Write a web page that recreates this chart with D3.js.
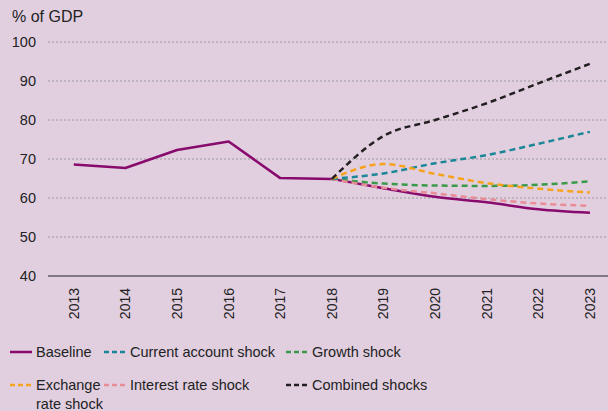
<!DOCTYPE html>
<html>
<head>
<meta charset="utf-8">
<script src="https://cdn.jsdelivr.net/npm/d3@7"></script>
<style>
  body { margin: 0; background: #e1cfe0; }
  svg { display: block; font-family: "Liberation Sans", Arial, sans-serif; }
</style>
</head>
<body>
<div class="chart"></div>
<script>
const width = 608
const height = 411

const years = [2013, 2014, 2015, 2016, 2017, 2018, 2019, 2020, 2021, 2022, 2023]
const shockYears = [2018, 2019, 2020, 2021, 2022, 2023]
const yTicks = [40, 50, 60, 70, 80, 90, 100]

const baseline = [68.6, 67.7, 72.3, 74.5, 65.1, 64.9, 62.5, 60.3, 58.9, 57.1, 56.2]
const currentAccount = [64.9, 66.3, 68.9, 71.0, 73.9, 77.0]
const growth = [64.9, 63.7, 63.2, 63.1, 63.4, 64.3]
const exchangeRate = [64.9, 68.7, 66.2, 63.8, 62.4, 61.4]
const interestRate = [64.9, 62.6, 61.2, 59.7, 58.6, 58.0]
const combined = [64.9, 75.9, 80.0, 84.3, 89.4, 94.4]

const COLORS = {
  BASELINE: '#870a6c',
  CURRENT: '#1b8796',
  GROWTH: '#3a9a48',
  EXCHANGE: '#f7a21b',
  INTEREST: '#ea8c98',
  COMBINED: '#231f20',
}

const margin = { top: 42, right: 0, bottom: 135, left: 48 }

const svg = d3.select('div.chart')
  .append('svg')
  .attr('width', width)
  .attr('height', height)

const x = d3.scaleLinear()
  .domain([2012.5, 2023.35])
  .range([margin.left, width - margin.right])

const y = d3.scaleLinear()
  .domain([40, 100])
  .range([height - margin.bottom, margin.top])

// gridlines
svg.append('g')
  .selectAll('line')
  .data(yTicks.filter(d => d > 40))
  .join('line')
  .attr('x1', margin.left)
  .attr('x2', width)
  .attr('y1', d => y(d))
  .attr('y2', d => y(d))
  .attr('stroke', '#9a9a9a')
  .attr('stroke-width', 1)
  .attr('stroke-dasharray', '2,2')

// y labels
svg.append('g')
  .selectAll('text')
  .data(yTicks)
  .join('text')
  .attr('x', 36)
  .attr('y', d => y(d))
  .attr('dy', '0.35em')
  .attr('text-anchor', 'end')
  .attr('font-size', 14.5)
  .attr('fill', '#222')
  .text(d => d)

svg.append('text')
  .attr('x', 12)
  .attr('y', 22)
  .attr('font-size', 16)
  .attr('fill', '#222')
  .text('% of GDP')

// x axis line
svg.append('line')
  .attr('x1', margin.left)
  .attr('x2', width)
  .attr('y1', y(40))
  .attr('y2', y(40))
  .attr('stroke', '#222')
  .attr('stroke-width', 1.2)

svg.append('g')
  .selectAll('text')
  .data(years)
  .join('text')
  .attr('transform', d => `translate(${x(d)},${y(40) + 12}) rotate(-90)`)
  .attr('text-anchor', 'end')
  .attr('dy', '0.35em')
  .attr('font-size', 14)
  .attr('fill', '#222')
  .text(d => d)

const lineLinear = d3.line()
  .x(d => x(d[0]))
  .y(d => y(d[1]))

const lineSmooth = d3.line()
  .x(d => x(d[0]))
  .y(d => y(d[1]))
  .curve(d3.curveMonotoneX)

const shockSeries = [
  { values: growth, color: COLORS.GROWTH },
  { values: interestRate, color: COLORS.INTEREST },
  { values: currentAccount, color: COLORS.CURRENT },
  { values: exchangeRate, color: COLORS.EXCHANGE },
  { values: combined, color: COLORS.COMBINED },
]

// baseline: straight history, smooth projection
const histIdx = years.indexOf(2018)
svg.append('path')
  .datum(years.slice(0, histIdx + 1).map((yr, i) => [yr, baseline[i]]))
  .attr('d', lineLinear)
  .attr('fill', 'none')
  .attr('stroke', COLORS.BASELINE)
  .attr('stroke-width', 2.5)
  .attr('stroke-linejoin', 'round')

svg.append('path')
  .datum(years.slice(histIdx).map((yr, i) => [yr, baseline[histIdx + i]]))
  .attr('d', lineSmooth)
  .attr('fill', 'none')
  .attr('stroke', COLORS.BASELINE)
  .attr('stroke-width', 2.5)

shockSeries.forEach(s => {
  svg.append('path')
    .datum(shockYears.map((yr, i) => [yr, s.values[i]]))
    .attr('d', lineSmooth)
    .attr('fill', 'none')
    .attr('stroke', s.color)
    .attr('stroke-width', 2.5)
    .attr('stroke-dasharray', '6,4')
})

// legend
const legendItems = [
  { label: ['Baseline'], color: COLORS.BASELINE, dash: null, x: 10, y: 352 },
  { label: ['Current account shock'], color: COLORS.CURRENT, dash: '5,3', x: 104, y: 352 },
  { label: ['Growth shock'], color: COLORS.GROWTH, dash: '5,3', x: 286, y: 352 },
  { label: ['Exchange', 'rate shock'], color: COLORS.EXCHANGE, dash: '5,3', x: 10, y: 385 },
  { label: ['Interest rate shock'], color: COLORS.INTEREST, dash: '5,3', x: 104, y: 385 },
  { label: ['Combined shocks'], color: COLORS.COMBINED, dash: '5,3', x: 286, y: 385 },
]

const legend = svg.append('g')
legendItems.forEach(item => {
  legend.append('line')
    .attr('x1', item.x)
    .attr('x2', item.x + 22)
    .attr('y1', item.y)
    .attr('y2', item.y)
    .attr('stroke', item.color)
    .attr('stroke-width', 2.5)
    .attr('stroke-dasharray', item.dash)
  const t = legend.append('text')
    .attr('x', item.x + 26)
    .attr('y', item.y)
    .attr('font-size', 14.5)
    .attr('fill', '#222')
  item.label.forEach((l, i) => {
    t.append('tspan')
      .attr('x', item.x + 26)
      .attr('dy', i === 0 ? '0.35em' : '1.3em')
      .text(l)
  })
})
</script>
</body>
</html>
